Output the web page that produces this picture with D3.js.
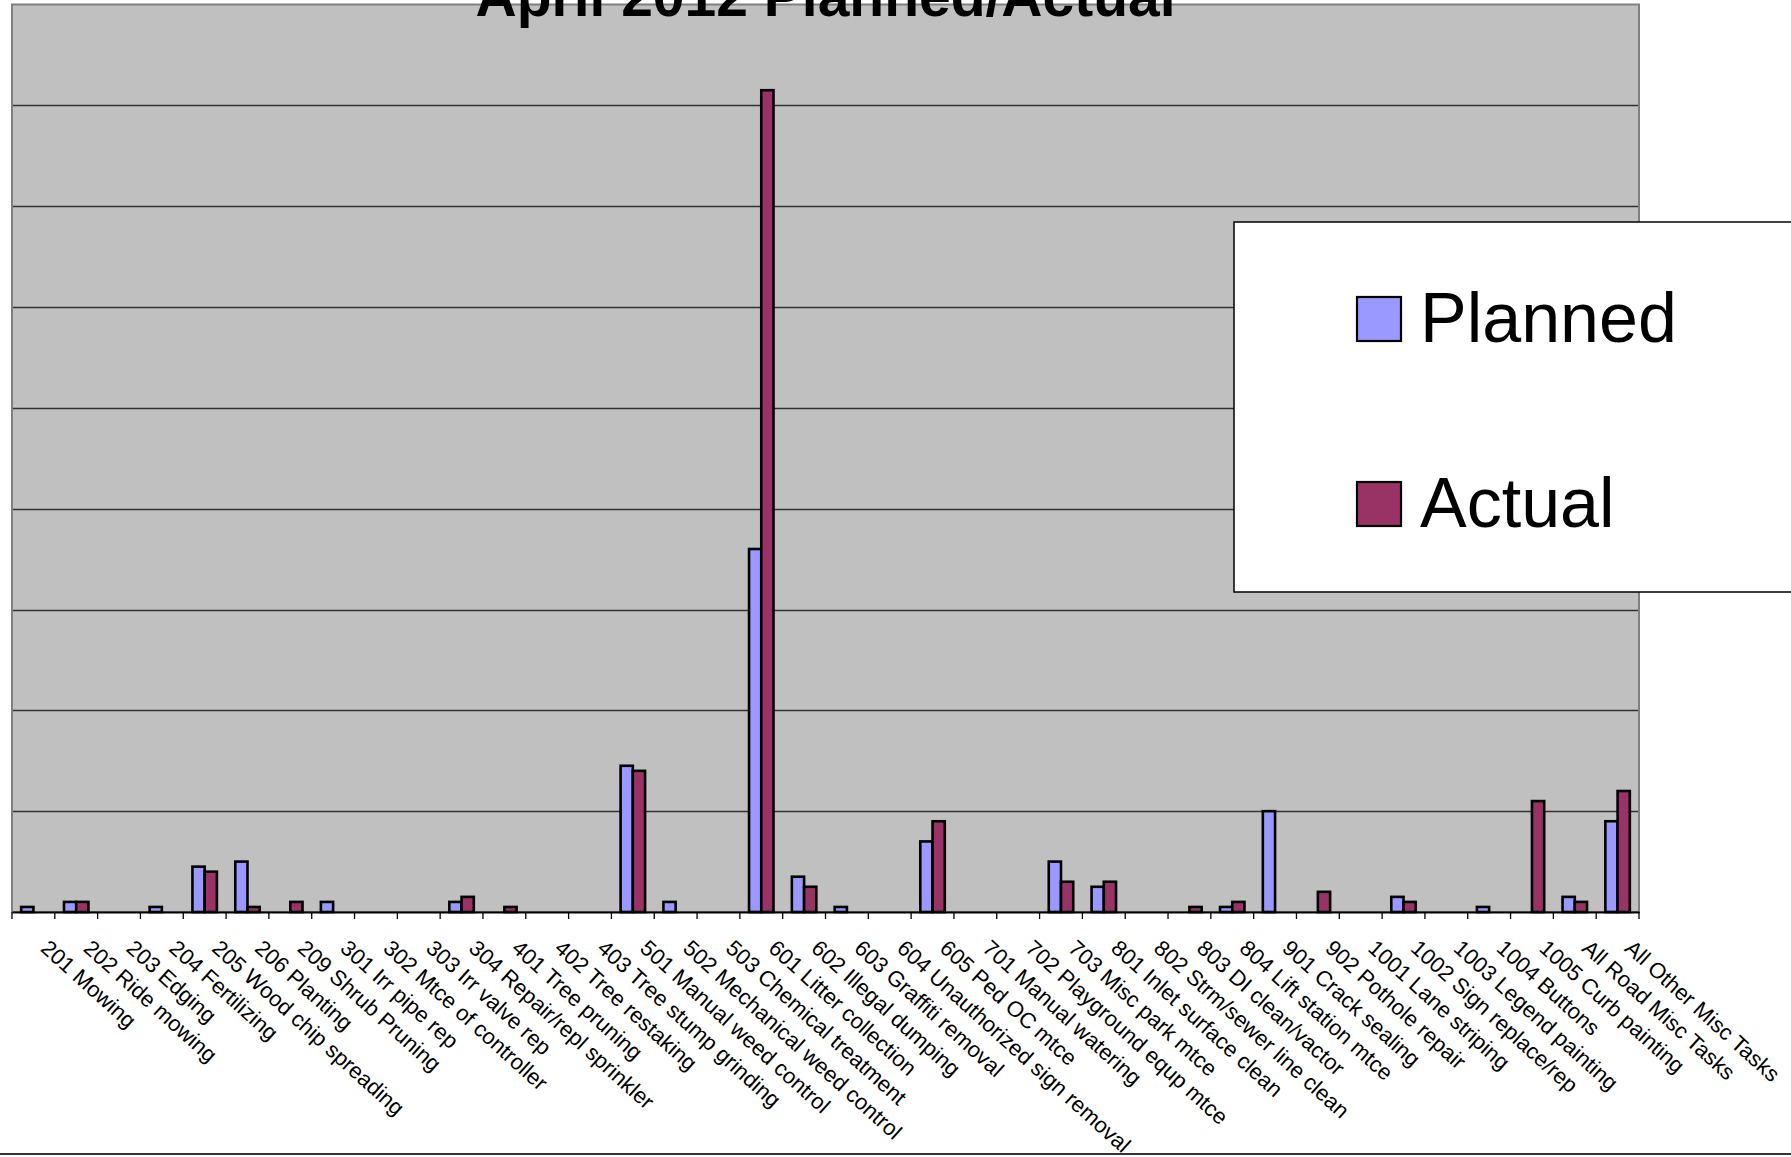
<!DOCTYPE html>
<html>
<head>
<meta charset="utf-8">
<script src="https://cdn.jsdelivr.net/npm/d3@7/dist/d3.min.js"></script>
<style>
  html, body { margin: 0; padding: 0; background: #ffffff; }
  svg { display: block; }
  text { font-family: "Liberation Sans", Arial, Helvetica, sans-serif; }
</style>
</head>
<body>
<svg id="chart" width="1791" height="1157"></svg>
<script>
const categories = [
  "201 Mowing", "202 Ride mowing", "203 Edging", "204 Fertilizing",
  "205 Wood chip spreading", "206 Planting", "209 Shrub Pruning",
  "301 Irr pipe rep", "302 Mtce of controller", "303 Irr valve rep",
  "304 Repair/repl sprinkler", "401 Tree pruning", "402 Tree restaking",
  "403 Tree stump grinding", "501 Manual weed control",
  "502 Mechanical weed control", "503 Chemical treatment",
  "601 Litter collection", "602 Illegal dumping", "603 Graffiti removal",
  "604 Unauthorized sign removal", "605 Ped OC mtce", "701 Manual watering",
  "702 Playground equp mtce", "703 Misc park mtce", "801 Inlet surface clean",
  "802 Strm/sewer line clean", "803 DI clean/vactor", "804 Lift station mtce",
  "901 Crack sealing", "902 Pothole repair", "1001 Lane striping",
  "1002 Sign replace/rep", "1003 Legend painting", "1004 Buttons",
  "1005 Curb painting", "All Road Misc Tasks", "All Other Misc Tasks"
];
const planned = [5,10,0,5,45,50,0,10,0,0,10,0,0,0,145,10,0,360,35,5,0,70,0,0,50,25,0,0,5,100,0,0,15,0,5,0,15,90];
const actual  = [0,10,0,0,40,5,10,0,0,0,15,5,0,0,140,0,0,815,25,0,0,90,0,0,30,30,0,5,10,0,20,0,10,0,0,110,10,120];
const seriesNames = ["Planned", "Actual"];
const seriesColors = ["#9999FF", "#993366"];
const gridValues = [100,200,300,400,500,600,700,800];
const titleText = "April 2012 Planned/Actual";

const svg = d3.select("#chart");
const plot = { left: 12, right: 1639, top: 4.5, bottom: 912 };

const x0 = d3.scaleBand().domain(categories).range([plot.left, plot.right]).padding(0);
const barW = x0.bandwidth() / 3.5;
const x1 = d3.scaleBand().domain(seriesNames).range([0, 2 * barW]);
const y = d3.scaleLinear().domain([0, 900]).range([plot.bottom, plot.top]);

// plot background
svg.append("rect")
  .attr("x", plot.left).attr("y", plot.top)
  .attr("width", plot.right - plot.left).attr("height", plot.bottom - plot.top)
  .attr("fill", "#C0C0C0");

// gridlines
svg.append("g").selectAll("line").data(gridValues).join("line")
  .attr("x1", plot.left).attr("x2", plot.right)
  .attr("y1", d => Math.round(y(d)) + 0.5).attr("y2", d => Math.round(y(d)) + 0.5)
  .attr("stroke", "#333333").attr("stroke-width", 1.3);

// plot border
svg.append("rect")
  .attr("x", plot.left).attr("y", plot.top)
  .attr("width", plot.right - plot.left).attr("height", plot.bottom - plot.top)
  .attr("fill", "none").attr("stroke", "#808080").attr("stroke-width", 2);

// bars
const rows = categories.map((c, i) => ({ cat: c, values: [planned[i], actual[i]] }));
const groups = svg.append("g").selectAll("g").data(rows).join("g")
  .attr("transform", d => `translate(${x0(d.cat) + x0.bandwidth() / 2 - barW},0)`);
groups.selectAll("rect")
  .data(d => d.values.map((v, k) => ({ name: seriesNames[k], v, k })).filter(e => e.v > 0))
  .join("rect")
  .attr("x", d => x1(d.name))
  .attr("y", d => y(d.v))
  .attr("width", x1.bandwidth())
  .attr("height", d => y(0) - y(d.v))
  .attr("fill", d => seriesColors[d.k])
  .attr("stroke", "#000000").attr("stroke-width", 2.6);

// category axis with labels
const axis = d3.axisBottom(x0).tickSize(0).tickPadding(0);
const gx = svg.append("g").attr("transform", `translate(0,${plot.bottom})`).call(axis);
gx.select(".domain").attr("stroke", "#000000").attr("stroke-width", 2);
gx.selectAll(".tick text")
  .attr("font-size", 22)
  .attr("fill", "#000000")
  .attr("text-anchor", "start")
  .attr("dy", null)
  .attr("y", null)
  .attr("transform", "translate(6,38) rotate(42)");

// boundary tick marks
const boundaries = categories.map(c => x0(c)).concat([plot.right]);
svg.append("g").selectAll("line").data(boundaries).join("line")
  .attr("x1", d => d).attr("x2", d => d)
  .attr("y1", plot.bottom).attr("y2", plot.bottom + 7)
  .attr("stroke", "#000000").attr("stroke-width", 1.3);

// title (partly above the top edge, as in the original)
svg.append("text")
  .attr("x", (plot.left + plot.right) / 2).attr("y", 16)
  .attr("text-anchor", "middle")
  .attr("font-size", 57).attr("font-weight", "bold")
  .attr("fill", "#000000")
  .text(titleText);

// legend
const lg = svg.append("g");
lg.append("rect")
  .attr("x", 1234).attr("y", 222).attr("width", 600).attr("height", 370)
  .attr("fill", "#ffffff").attr("stroke", "#000000").attr("stroke-width", 1.5);
const legendY = d3.scalePoint().domain(seriesNames).range([342, 527]);
seriesNames.forEach((s, k) => {
  const by = legendY(s);
  lg.append("rect")
    .attr("x", 1357).attr("y", by - 45).attr("width", 44).attr("height", 44)
    .attr("fill", seriesColors[k]).attr("stroke", "#000000").attr("stroke-width", 2.2);
  lg.append("text")
    .attr("x", 1420).attr("y", by)
    .attr("font-size", 70).attr("fill", "#000000")
    .text(s);
});

// chart area bottom border
svg.append("line")
  .attr("x1", 0).attr("x2", 1791).attr("y1", 1154).attr("y2", 1154)
  .attr("stroke", "#333333").attr("stroke-width", 2);
</script>
</body>
</html>
